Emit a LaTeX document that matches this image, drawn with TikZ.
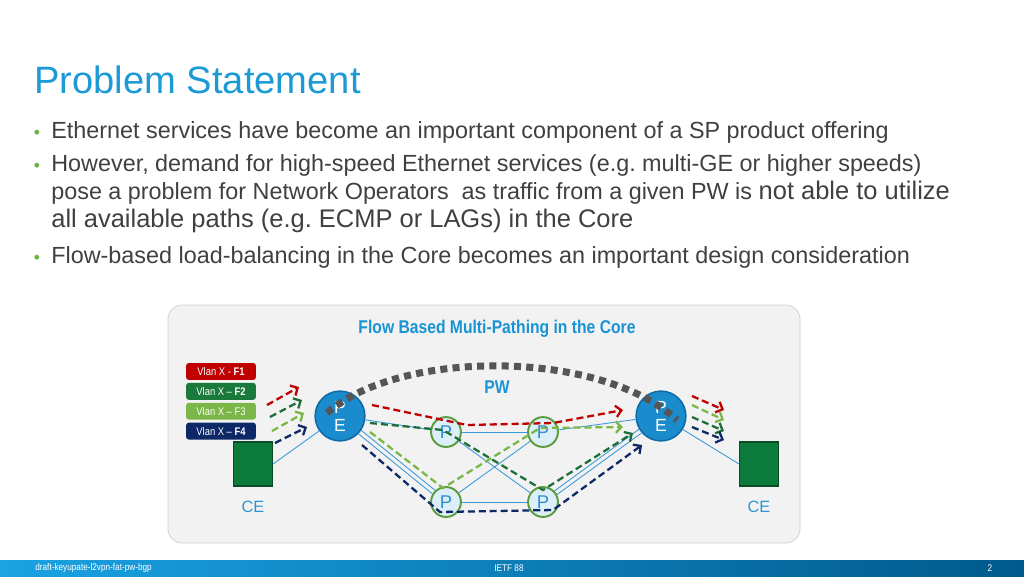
\documentclass[tikz,border=0pt]{standalone}
\usepackage{fontspec}
\setmainfont{Liberation Sans}
\newfontfamily\narrowfont[FakeStretch=0.85]{Liberation Sans}
\usetikzlibrary{positioning}
\usetikzlibrary{arrows.meta}
\frenchspacing

\definecolor{titleblue}{HTML}{1B9AD6}
\definecolor{bodygray}{HTML}{404040}
\definecolor{bulletgreen}{HTML}{6AB23E}
\definecolor{boxgray}{HTML}{F2F2F2}
\definecolor{boxline}{HTML}{CFCFCF}
\definecolor{boxblue}{HTML}{1893D3}
\definecolor{peblue}{HTML}{1A8CCE}
\definecolor{peline}{HTML}{0F6AA5}
\definecolor{pfill}{HTML}{DCEFF9}
\definecolor{pline}{HTML}{5C9B3E}
\definecolor{pblue}{HTML}{2E8FD1}
\definecolor{linkblue}{HTML}{3C9AD8}
\definecolor{flowred}{HTML}{C00000}
\definecolor{flowdkgreen}{HTML}{1D6E38}
\definecolor{legdkgreen}{HTML}{1A7A3C}
\definecolor{flowltgreen}{HTML}{7AB648}
\definecolor{flownavy}{HTML}{0C2866}
\definecolor{cegreen}{HTML}{0C7A3B}
\definecolor{celine}{HTML}{0A4A24}
\definecolor{ceblue}{HTML}{2B95D5}
\definecolor{pwgray}{HTML}{555555}
\definecolor{footleft}{HTML}{1AA2E3}
\definecolor{footright}{HTML}{005A8D}

\begin{document}
\begin{tikzpicture}[x=0.02cm, y=-0.02cm,
  flow/.style={line width=1.3pt, dash pattern=on 4pt off 2.2pt, -{Straight Barb[length=3.2pt, width=6.5pt]}},
  link/.style={draw=linkblue, line width=0.5pt},
  pe/.style={circle, fill=peblue, draw=peline, line width=0.9pt, minimum size=28.3pt, inner sep=0, text=white, align=center, font=\fontsize{10}{10.2}\selectfont},
  prouter/.style={circle, fill=pfill, draw=pline, line width=1.1pt, minimum size=17pt, inner sep=0, text=pblue, font=\fontsize{10.5}{11}\selectfont},
  ce/.style={rectangle, fill=cegreen, draw=celine, line width=0.8pt, minimum width=22pt, minimum height=25pt, inner sep=0},
  legend/.style={rounded corners=1.5pt, minimum width=39.7pt, minimum height=9.6pt, inner sep=0, text=white, font=\narrowfont\fontsize{6.3}{7}\selectfont},
  celabel/.style={text=ceblue, font=\fontsize{9.3}{10}\selectfont, inner sep=0},
  bodytext/.style={anchor=base west, inner sep=0, text=bodygray, font=\fontsize{13.3}{16}\selectfont},
  bullet/.style={anchor=base, inner sep=0, text=bulletgreen, font=\fontsize{10}{10}\selectfont},
  footer/.style={inner sep=0, text=white, font=\narrowfont\fontsize{5.5}{6}\selectfont}]

\fill[white] (0,0) rectangle (1024,576);
\useasboundingbox (0,0) rectangle (1024,576);

% title and bullets
\node[anchor=base west, inner sep=0, text=titleblue, font=\fontsize{21.7}{24}\selectfont] (title) at (34,93) {Problem Statement};

\node[bullet] (b1) at (37,138) {•};
\node[bodytext] (t1) at (51,138) {Ethernet services have become an important component of a SP product offering};
\node[bullet] (b2) at (37,171) {•};
\node[bodytext] (t2) at (51,171) {However, demand for high-speed Ethernet services (e.g. multi-GE or higher speeds)};
\node[bodytext] (t3) at (51,199) {pose a problem for Network Operators\ \ as traffic from a given PW is {\fontsize{14.5}{17}\selectfont not able to utilize}};
\node[bodytext, font=\fontsize{14.5}{17}\selectfont] (t4) at (51,227) {all available paths (e.g. ECMP or LAGs) in the Core};
\node[bullet] (b3) at (37,263) {•};
\node[bodytext] (t5) at (51,263) {Flow-based load-balancing in the Core becomes an important design consideration};

% diagram box
\draw[draw=boxline, fill=boxgray, rounded corners=8pt] (168,305) rectangle (800,543);
\node[text=boxblue, font=\narrowfont\bfseries\fontsize{10.5}{12}\selectfont] (flowtitle) at (497,329) {Flow Based Multi-Pathing in the Core};

% routers
\node[pe] (pel) at (340,416) {P\\E};
\node[pe] (per) at (661,416) {P\\E};
\node[prouter] (p1) at (446,432) {P};
\node[prouter] (p2) at (543,432) {P};
\node[prouter] (p3) at (446,502) {P};
\node[prouter] (p4) at (543,502) {P};
\node[ce] (cel) at (253,464) {};
\node[ce] (cer) at (759,464) {};
\node[celabel, below=7.9pt of cel] (cell) {CE};
\node[celabel, below=7.9pt of cer] (cerl) {CE};

% legend
\node[legend, fill=flowred] (f1) at (221,371.5) {Vlan X - \textbf{F1}};
\node[legend, fill=legdkgreen, below=1.3pt of f1] (f2) {Vlan X – \textbf{F2}};
\node[legend, fill=flowltgreen, below=1.3pt of f2] (f3) {Vlan X – F3};
\node[legend, fill=flownavy, below=1.3pt of f3] (f4) {Vlan X – \textbf{F4}};

% links
\draw[link] (cel.east) -- (pel);
\draw[link] (pel) -- (p1);
\draw[link] (p1) -- (p2);
\draw[link] (p2) -- (per);
\draw[link] (pel.-34) -- (p3.133);
\draw[link] (pel.-44) -- (p3.149);
\draw[link] (p1) -- (p4);
\draw[link] (p2) -- (p3);
\draw[link] (p3) -- (p4);
\draw[link] (p4.44) -- (per.211);
\draw[link] (p4.28) -- (per.221);
\draw[link] (per) -- (cer.west);

% flows through the core
\coordinate (r0) at (372,405);
\coordinate (r1) at (467,425);
\coordinate (r2) at (553,423);
\coordinate (r3) at (623,410);
\coordinate (g0) at (370,423);
\coordinate (g1) at (443,430);
\coordinate (g2) at (543,490);
\coordinate (g3) at (633,433);
\coordinate (l0) at (370,432);
\coordinate (l1) at (443,488);
\coordinate (l2) at (540,428);
\coordinate (l3) at (623,427);
\coordinate (n0) at (362,445);
\coordinate (n1) at (440,512);
\coordinate (n2) at (553,510);
\coordinate (n3) at (642,445);
\draw[flow, flowred] (r0) -- (r1) -- (r2) -- (r3);
\draw[flow, flowdkgreen] (g0) -- (g1) -- (g2) -- (g3);
\draw[flow, flowltgreen] (l0) -- (l1) -- (l2) -- (l3);
\draw[flow, flownavy] (n0) -- (n1) -- (n2) -- (n3);

% flows in and out
\coordinate (la1) at (267,405);
\coordinate (lb1) at (299,387);
\coordinate (la2) at (270,417);
\coordinate (lb2) at (302,400);
\coordinate (la3) at (272,431);
\coordinate (lb3) at (304,413);
\coordinate (la4) at (275,443);
\coordinate (lb4) at (307,427);
\draw[flow, flowred] (la1) -- (lb1);
\draw[flow, flowdkgreen] (la2) -- (lb2);
\draw[flow, flowltgreen] (la3) -- (lb3);
\draw[flow, flownavy] (la4) -- (lb4);
\coordinate (ra1) at (692,396);
\coordinate (rb1) at (724,410);
\coordinate (ra2) at (692,405);
\coordinate (rb2) at (724,420);
\coordinate (ra3) at (692,417);
\coordinate (rb3) at (724,431);
\coordinate (ra4) at (692,427);
\coordinate (rb4) at (724,440);
\draw[flow, flowred] (ra1) -- (rb1);
\draw[flow, flowltgreen] (ra2) -- (rb2);
\draw[flow, flowdkgreen] (ra3) -- (rb3);
\draw[flow, flownavy] (ra4) -- (rb4);

% pseudowire
\coordinate (pwl) at (327,413);
\coordinate (pwr) at (677,420);
\draw[pwgray, line width=4pt, dash pattern=on 4pt off 3pt] (pwl) .. controls (400,349) and (600,349) .. (pwr);
\node[text=boxblue, font=\narrowfont\bfseries\fontsize{10.5}{12}\selectfont] (pwlabel) at (497,387) {PW};

% footer
\shade[left color=footleft, right color=footright] (0,560) rectangle (1024,576);
\node[footer, anchor=west] (foot1) at (35,568) {draft-keyupate-l2vpn-fat-pw-bgp};
\node[footer] (foot2) at (509,568) {IETF 88};
\node[footer] (foot3) at (990,568) {2};
\end{tikzpicture}
\end{document}
